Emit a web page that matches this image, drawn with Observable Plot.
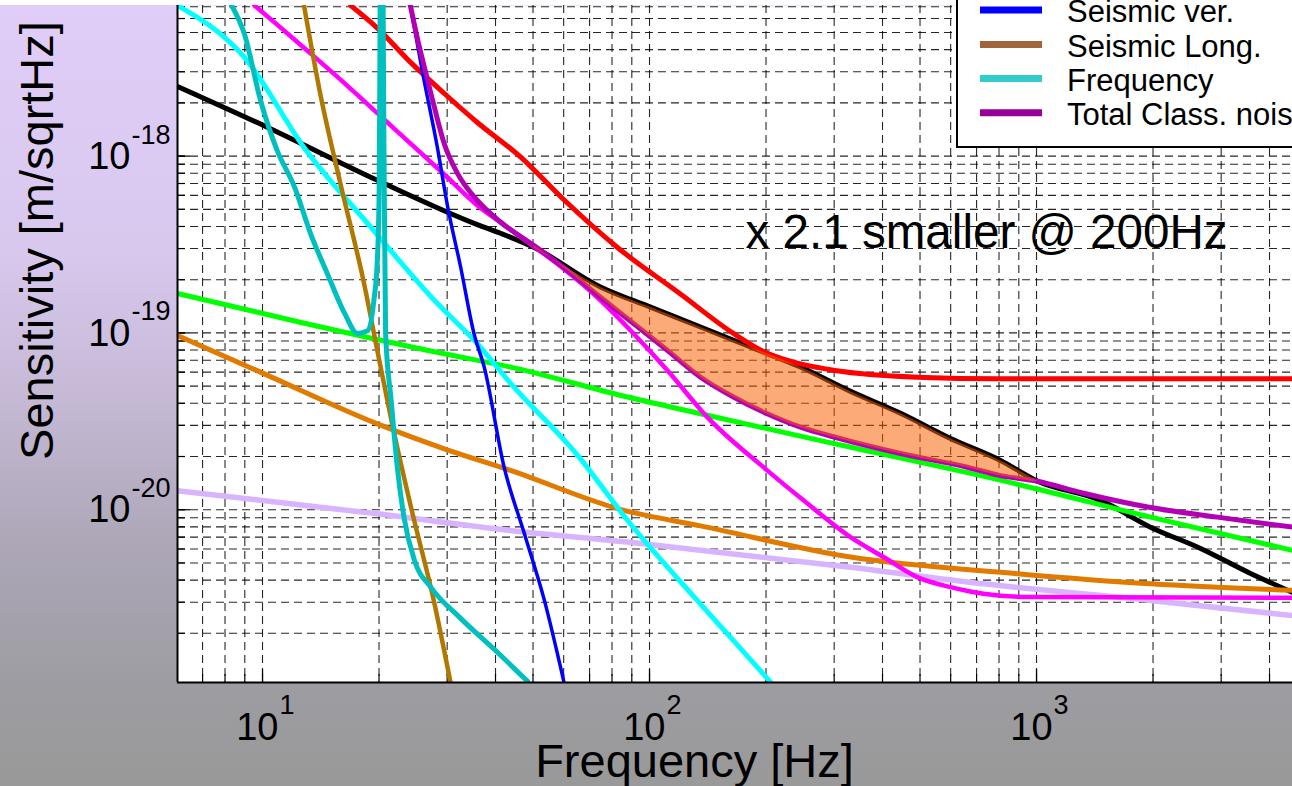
<!DOCTYPE html>
<html>
<head>
<meta charset="utf-8">
<script src="https://cdn.jsdelivr.net/npm/d3@7"></script>
<script src="https://cdn.jsdelivr.net/npm/@observablehq/plot@0.6"></script>
<style>
html, body { margin: 0; padding: 0; width: 1292px; height: 786px; overflow: hidden; }
body {
  position: relative;
  font-family: "Liberation Sans", Arial, sans-serif;
  background: linear-gradient(to bottom, #ffffff 0px, #ffffff 5px, #e0cdf8 5px, #d8c8ee 250px, #c5b9d5 400px, #aca6b6 550px, #9d9ca1 690px, #999999 786px);
}
#chart { position: absolute; left: 0; top: 0; }
#legend { position: absolute; left: 0; top: 0; pointer-events: none; }
</style>
</head>
<body>
<div id="chart"></div>
<svg id="legend" width="1292" height="786"></svg>
<script>
// ---------------- data (frequency in Hz, sensitivity in m/sqrtHz) ----------------
const blackFreq = [6.03, 10, 19.8, 35.9, 41.2, 50.2, 74.7, 100.6, 135.5, 182.4, 245.6, 330.7, 445.3, 599.6, 807, 1000, 1463, 1970, 2654, 3573, 4586];
const blackSens = [2.48e-18, 1.50e-18, 7.3e-19, 4.1e-19, 3.66e-19, 3.05e-19, 1.82e-19, 1.40e-19, 1.08e-19, 8.32e-20, 6.41e-20, 4.67e-20, 3.51e-20, 2.53e-20, 1.90e-20, 1.46e-20, 1.13e-20, 7.97e-21, 6.04e-21, 4.36e-21, 3.41e-21];

const redFreq = [16.9, 19.8, 24.1, 29.5, 35.9, 46.4, 59.9, 82.5, 120.2, 164.8, 201.4, 245.6, 301.5, 491.6, 807, 4586];
const redSens = [7.11e-18, 5.3e-18, 3.4e-18, 2.26e-18, 1.55e-18, 9.9e-19, 5.7e-19, 3.05e-19, 1.66e-19, 9.93e-20, 7.66e-20, 6.68e-20, 6.13e-20, 5.62e-20, 5.50e-20, 5.50e-20];

const magentaFreq = [9.53, 11.6, 13.3, 16.3, 19.8, 24.1, 29.5, 35.9, 41.2, 74.7, 90.9, 111.3, 141, 201.4, 250, 330.7, 402.5, 491.6, 599.6, 729.5, 965, 4586];
const magentaSens = [7.11e-18, 4.94e-18, 3.81e-18, 2.58e-18, 1.75e-18, 1.18e-18, 7.87e-19, 5.26e-19, 4.22e-19, 1.53e-19, 9.93e-20, 6.13e-20, 3.34e-20, 1.67e-20, 1.13e-20, 7.0e-21, 5.40e-21, 4.16e-21, 3.65e-21, 3.35e-21, 3.21e-21, 3.18e-21];

const purpleFreq = [24.1, 25.2, 26.2, 27.8, 29.5, 31.9, 35.9, 41.2, 50.2, 61.3, 74.7, 90.9, 111.3, 135.5, 164.8, 201.4, 245.6, 301.5, 445.3, 662.2, 807, 1004, 1323, 1970, 2931, 4586];
const purpleSens = [7.11e-18, 4.51e-18, 3.18e-18, 1.89e-18, 1.17e-18, 7.98e-19, 5.61e-19, 4.24e-19, 3.13e-19, 2.26e-19, 1.59e-19, 1.13e-19, 7.96e-20, 5.62e-20, 4.34e-20, 3.49e-20, 2.93e-20, 2.57e-20, 2.08e-20, 1.74e-20, 1.56e-20, 1.45e-20, 1.24e-20, 1.03e-20, 9.08e-21, 7.97e-21];

const greenFreq = [6.03, 12.5, 29.5, 43.7, 87.8, 135.5, 301.5, 807, 1970, 4586];
const greenSens = [1.67e-19, 1.15e-19, 7.62e-20, 6.41e-20, 4.34e-20, 3.49e-20, 2.36e-20, 1.47e-20, 9.08e-21, 5.89e-21];

const orangeFreq = [6.03, 9.88, 19.8, 29.5, 43.7, 86.0, 135.5, 330.7, 891.5, 1970, 4586];
const orangeSens = [9.68e-20, 6.0e-20, 3.06e-20, 2.21e-20, 1.67e-20, 9.91e-21, 8.1e-21, 5.40e-21, 4.35e-21, 3.81e-21, 3.50e-21];

const lavenderFreq = [6.03, 19.8, 43.7, 87.8, 330.7, 729.5, 1970, 4586];
const lavenderSens = [1.28e-20, 9.48e-21, 7.64e-21, 6.56e-21, 4.73e-21, 3.81e-21, 3.07e-21, 2.52e-21];

const cyanFreq = [6.03, 8.97, 12.8, 19.05, 27.8, 35.9, 43.7, 65.2, 87.8, 132.8, 164.8, 205.5];
const cyanSens = [7.11e-18, 3.63e-18, 1.12e-18, 3.96e-19, 1.53e-19, 8.69e-20, 5.2e-20, 2.03e-20, 8.69e-21, 3.07e-21, 1.82e-21, 1.06e-21];

const tealFreq = [8.32, 8.97, 9.88, 10.9, 12.1, 13.3, 14.7, 16.3, 17.6, 18.7, 19.4, 19.8, 20.0, 20.3, 20.6, 20.8, 21.5, 22.3, 23.2, 24.7, 27.2, 32.5, 39.5, 48.4];
const tealSens = [7.11e-18, 4.94e-18, 2.07e-18, 1.08e-18, 6.68e-19, 3.66e-19, 2.17e-19, 1.29e-19, 9.93e-20, 1.03e-19, 1.53e-19, 2.57e-19, 5.61e-19, 1e-16, 1.08e-18, 9.93e-20, 4.15e-20, 1.74e-20, 9.08e-21, 5.16e-21, 3.65e-21, 2.43e-21, 1.64e-21, 1.07e-21];

const goldFreq = [12.8, 14.1, 15.9, 18.3, 19.8, 21.9, 24.2, 27.7, 30.6];
const goldSens = [7.11e-18, 2.25e-18, 6.98e-19, 1.90e-19, 7.96e-20, 2.69e-20, 1.03e-20, 3.07e-21, 1.06e-21];

const blueFreq = [24.1, 25.9, 28.3, 30.1, 32.5, 35.2, 37.4, 42.1, 47.5, 53.5, 60.1];
const blueSens = [7.11e-18, 2.99e-18, 1.12e-18, 5.15e-19, 2.36e-19, 9.89e-20, 6.41e-20, 1.74e-20, 7.31e-21, 3.07e-21, 1.06e-21];

// axes
const xDomain = [6.03, 4586];
const yDomain = [1.054e-21, 7.11e-18];
const xTickValues = [10, 100, 1000];
const xTickExponents = ["1", "2", "3"];
const yTickValues = [1e-18, 1e-19, 1e-20];
const yTickExponents = ["-18", "-19", "-20"];
const xLabel = "Frequency [Hz]";
const yLabel = "Sensitivity [m/sqrtHz]";
const annotation = "x 2.1 smaller @ 200Hz";

// legend (upper entries are cut off by the figure edge)
const legendLabels = ["Seismic ver.", "Seismic Long.", "Frequency", "Total Class. noise"];
const legendColors = ["#0000ff", "#a0653a", "#33cccc", "#990099"];

// ---------------- build ----------------
const series = (F, V) => F.map((f, i) => ({f, v: V[i]}));

const xGrid = [];
for (const d of [1, 10, 100, 1000]) for (let k = 1; k <= 9; k++) { const t = d * k; if (t > xDomain[0] && t < xDomain[1]) xGrid.push(t); }
const yGrid = [];
for (const d of [1e-21, 1e-20, 1e-19, 1e-18]) for (let k = 1; k <= 9; k++) { const t = d * k; if (t > yDomain[0] && t < yDomain[1]) yGrid.push(t); }
const xMajor = xGrid.filter(t => Number.isInteger(Math.log10(t)));

const black = series(blackFreq, blackSens);
const purple = series(purpleFreq, purpleSens);
const band = [
  ...black.filter(d => d.f >= 50 && d.f <= 1000),
  ...purple.filter(d => d.f >= 50 && d.f <= 1004).reverse()
];

const L = (F, V, color, w) => Plot.line(series(F, V), {
  x: "f", y: "v", stroke: color, strokeWidth: w, clip: true, curve: "monotone-x",
  strokeLinejoin: "round", strokeLinecap: "round"
});

const W = 1292, H = 786, mT = 5, mB = 104, mL = 177, mR = 0;
const fw = W - mL - mR, fh = H - mT - mB;
const font = "Liberation Sans, Arial, sans-serif";
const gridStyle = {stroke: "#000", strokeOpacity: 0.85, strokeWidth: 1.1, strokeDasharray: "8,5"};

const chart = Plot.plot({
  width: W, height: H,
  marginTop: mT, marginBottom: mB, marginLeft: mL, marginRight: mR,
  style: {background: "transparent", fontFamily: font, overflow: "visible"},
  x: {type: "log", domain: xDomain, axis: null},
  y: {type: "log", domain: yDomain, axis: null},
  marks: [
    Plot.frame({fill: "white", stroke: "none"}),
    Plot.ruleX(xGrid, gridStyle),
    Plot.ruleY(yGrid, gridStyle),
    Plot.tickX(xGrid, {x: d => d, stroke: "#000", strokeWidth: 1.2, insetTop: fh - 8}),
    Plot.tickX(xMajor, {x: d => d, stroke: "#000", strokeWidth: 1.2, insetTop: fh - 13}),
    Plot.tickY(yGrid, {y: d => d, stroke: "#000", strokeWidth: 1.2, insetRight: fw - 8}),
    Plot.tickY(yTickValues, {y: d => d, stroke: "#000", strokeWidth: 1.2, insetRight: fw - 13}),
    L(blackFreq, blackSens, "#000000", 5),
    L(redFreq, redSens, "#ff0000", 5),
    L(greenFreq, greenSens, "#00ff00", 5),
    L(orangeFreq, orangeSens, "#e07b00", 5),
    L(lavenderFreq, lavenderSens, "#d8b4ff", 5.5),
    L(magentaFreq, magentaSens, "#ff00ff", 4.5),
    L(cyanFreq, cyanSens, "#00ffff", 5),
    L(goldFreq, goldSens, "#b07800", 4.5),
    L(tealFreq, tealSens, "#00bfbf", 5),
    L(blueFreq, blueSens, "#0000ff", 3.5),
    L(purpleFreq, purpleSens, "#b400b4", 5),
    Plot.line(band, {x: "f", y: "v", fill: "#f95e00", fillOpacity: 0.53, stroke: "none", clip: true, curve: "catmull-rom"}),
    Plot.ruleX([xDomain[0]], {stroke: "#000", strokeWidth: 2}),
    Plot.ruleY([yDomain[0]], {stroke: "#000", strokeWidth: 2}),
    // x tick labels
    Plot.text(xTickValues, {x: d => d, text: () => "10", frameAnchor: "bottom", textAnchor: "end", lineAnchor: "bottom", dx: 16, dy: 57, fontSize: 38, fill: "#000", fontFamily: font}),
    Plot.text(xTickValues, {x: d => d, text: (d, i) => xTickExponents[i], frameAnchor: "bottom", textAnchor: "start", lineAnchor: "bottom", dx: 17, dy: 31, fontSize: 27, fill: "#000", fontFamily: font}),
    // y tick labels
    Plot.text(yTickValues, {y: d => d, text: () => "10", frameAnchor: "left", textAnchor: "end", lineAnchor: "bottom", dx: -47, dy: 12.6, fontSize: 38, fill: "#000", fontFamily: font}),
    Plot.text(yTickValues, {y: d => d, text: (d, i) => yTickExponents[i], frameAnchor: "left", textAnchor: "end", lineAnchor: "bottom", dx: -7, dy: -12.5, fontSize: 27, fill: "#000", fontFamily: font}),
    // axis labels
    Plot.text([xLabel], {frameAnchor: "bottom", textAnchor: "middle", lineAnchor: "bottom", dx: 694 - (mL + fw / 2), dy: 776 - (mT + fh), fontSize: 47, fill: "#000", fontFamily: font}),
    Plot.text([yLabel], {frameAnchor: "left", textAnchor: "middle", lineAnchor: "bottom", rotate: -90, dx: 52 - mL, dy: 240 - (mT + fh / 2), fontSize: 47, fill: "#000", fontFamily: font}),
    // annotation
    Plot.text([annotation], {frameAnchor: "top-left", textAnchor: "start", lineAnchor: "bottom", dx: 745 - mL, dy: 247 - mT, fontSize: 47.6, fill: "#000", fontFamily: font})
  ]
});
document.getElementById("chart").appendChild(chart);

// legend box (partially outside the figure, as in the original)
const lg = d3.select("#legend");
lg.append("rect").attr("x", 957).attr("y", -120).attr("width", 420).attr("height", 267)
  .attr("fill", "#fff").attr("stroke", "#000").attr("stroke-width", 2);
const rowY = [10, 44.5, 78.5, 112.7];
legendLabels.forEach((lab, i) => {
  lg.append("line").attr("x1", 980).attr("x2", 1042).attr("y1", rowY[i]).attr("y2", rowY[i])
    .attr("stroke", legendColors[i]).attr("stroke-width", 7);
  lg.append("text").attr("x", 1067).attr("y", rowY[i] + 12.3).attr("font-size", 31)
    .attr("font-family", font).attr("fill", "#000").text(lab);
});
</script>
</body>
</html>
